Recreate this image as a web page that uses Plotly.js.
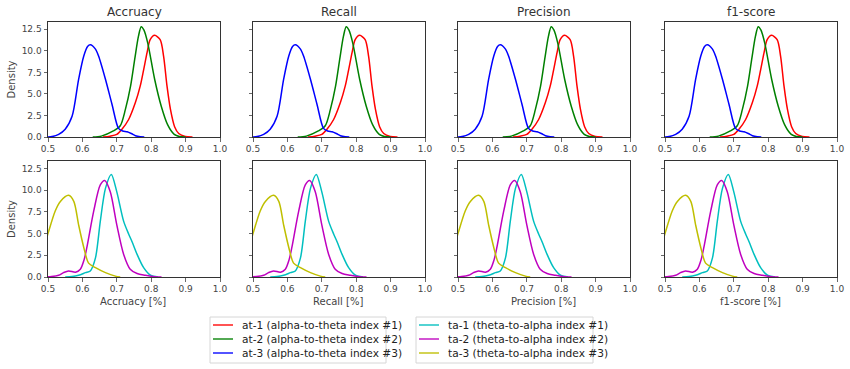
<!DOCTYPE html>
<html>
<head>
<meta charset="utf-8">
<script src="https://cdn.plot.ly/plotly-3.0.1.min.js"></script>
<style>html,body{margin:0;padding:0;background:#fff;}#chart{width:850px;height:369px;}</style>
</head>
<body>
<div id="chart"></div>
<script>
// Panel titles and axis labels
const panelTitles = ["Accruacy", "Recall", "Precision", "f1-score"];
const xLabels = ["Accruacy [%]", "Recall [%]", "Precision [%]", "f1-score [%]"];
const xTicks = [0.5, 0.6, 0.7, 0.8, 0.9, 1.0];
const yTicks = [0, 2.5, 5, 7.5, 10, 12.5];

// Series names
const seriesNames = [
  "at-1 (alpha-to-theta index #1)",
  "at-2 (alpha-to-theta index #2)",
  "at-3 (alpha-to-theta index #3)",
  "ta-1 (theta-to-alpha index #1)",
  "ta-2 (theta-to-alpha index #2)",
  "ta-3 (theta-to-alpha index #3)"
];

// at-1 (red)
const at1_x = [0.66, 0.68, 0.700, 0.715, 0.734, 0.754, 0.768, 0.778, 0.788, 0.797, 0.810, 0.826, 0.836, 0.846, 0.856, 0.868, 0.880, 0.899, 0.92];
const at1_y = [0.0, 0.1, 0.3, 0.9, 2.0, 4.0, 5.9, 7.8, 9.8, 11.3, 11.8, 11.3, 9.4, 5.9, 3.2, 1.2, 0.4, 0.05, 0.0];
// at-2 (green)
const at2_x = [0.63, 0.655, 0.690, 0.710, 0.725, 0.740, 0.752, 0.763, 0.771, 0.779, 0.790, 0.810, 0.829, 0.848, 0.867, 0.882, 0.90];
const at2_y = [0.0, 0.1, 0.7, 1.3, 3.2, 5.9, 9.0, 11.7, 12.8, 12.4, 10.9, 6.7, 3.6, 1.4, 0.3, 0.05, 0.0];
// at-3 (blue)
const at3_x = [0.49, 0.512, 0.531, 0.550, 0.570, 0.589, 0.604, 0.615, 0.623, 0.638, 0.647, 0.667, 0.686, 0.705, 0.717, 0.730, 0.742, 0.754, 0.768, 0.78];
const at3_y = [0.0, 0.05, 0.3, 0.9, 2.4, 6.7, 9.4, 10.5, 10.7, 10.2, 9.4, 6.7, 3.8, 1.0, 0.7, 0.6, 0.4, 0.15, 0.02, 0.0];
// ta-1 (cyan)
const ta1_x = [0.55, 0.570, 0.589, 0.609, 0.623, 0.638, 0.652, 0.667, 0.684, 0.700, 0.720, 0.735, 0.745, 0.759, 0.778, 0.798, 0.82];
const ta1_y = [0.0, 0.05, 0.2, 0.5, 0.7, 2.2, 6.4, 10.2, 11.8, 9.8, 6.4, 4.9, 4.0, 2.6, 1.07, 0.2, 0.0];
// ta-2 (magenta)
const ta2_x = [0.49, 0.510, 0.531, 0.545, 0.560, 0.580, 0.594, 0.605, 0.613, 0.633, 0.652, 0.665, 0.681, 0.700, 0.720, 0.739, 0.759, 0.783, 0.81, 0.83];
const ta2_y = [0.0, 0.05, 0.2, 0.5, 0.7, 0.55, 0.9, 2.0, 3.4, 7.6, 10.6, 11.1, 9.8, 6.0, 2.6, 0.9, 0.4, 0.2, 0.03, 0.0];
// ta-3 (yellow)
const ta3_x = [0.47, 0.485, 0.500, 0.521, 0.536, 0.560, 0.575, 0.589, 0.604, 0.618, 0.638, 0.667, 0.696, 0.71];
const ta3_y = [1.6, 3.0, 5.0, 7.6, 8.7, 9.4, 8.7, 6.0, 3.4, 1.6, 1.07, 0.5, 0.1, 0.0];

const seriesX = [at1_x, at2_x, at3_x, ta1_x, ta2_x, ta3_x];
const seriesY = [at1_y, at2_y, at3_y, ta1_y, ta2_y, ta3_y];
const seriesColors = ["#ff0000", "#008000", "#0000ff", "#00bfbf", "#bf00bf", "#bfbf00"];

const W = 850, H = 369;
const colPx = [[48, 220], [253, 425], [458, 630], [665, 837]];
const rowPx = [[22, 137], [161, 277]];
const tickFont = {family: "DejaVu Sans", size: 9, color: "#444"};
const labFont = {family: "DejaVu Sans", size: 10, color: "#444"};
const py = v => 1 - v / H, px = v => v / W;

const traces = [];
const layout = {
  width: W, height: H,
  margin: {l: 0, r: 0, t: 0, b: 0, autoexpand: false},
  paper_bgcolor: "#ffffff",
  plot_bgcolor: "#ffffff",
  font: {family: "DejaVu Sans", size: 9, color: "#444"},
  showlegend: false,
  annotations: [],
  shapes: []
};

let idx = 0;
for (let r = 0; r < 2; r++) {
  for (let c = 0; c < 4; c++) {
    idx++;
    const xa = "xaxis" + (idx === 1 ? "" : idx);
    const ya = "yaxis" + (idx === 1 ? "" : idx);
    const xref = "x" + (idx === 1 ? "" : idx);
    const yref = "y" + (idx === 1 ? "" : idx);
    layout[xa] = {
      domain: [colPx[c][0] / W, colPx[c][1] / W],
      anchor: yref, automargin: false,
      range: [0.5, 1.0],
      tickvals: xTicks, tickformat: ".1f",
      ticks: "outside", ticklen: 3.5, tickcolor: "#444", tickwidth: 0.8,
      showline: true, mirror: true, linecolor: "#333", linewidth: 1,
      showgrid: false, zeroline: false,
      tickfont: tickFont
    };
    layout[ya] = {
      domain: [1 - rowPx[r][1] / H, 1 - rowPx[r][0] / H],
      anchor: xref, automargin: false,
      range: [0, 13.35],
      tickvals: yTicks, tickformat: ".1f",
      ticks: "outside", ticklen: 3.5, tickcolor: "#444", tickwidth: 0.8,
      showticklabels: c === 0,
      showline: true, mirror: true, linecolor: "#333", linewidth: 1,
      showgrid: false, zeroline: false,
      tickfont: tickFont,
      title: c === 0 ? {text: "Density", font: labFont, standoff: 4} : {text: ""}
    };
    const sIdx = r === 0 ? [0, 1, 2] : [3, 4, 5];
    sIdx.forEach(s => {
      traces.push({
        type: "scatter", mode: "lines",
        x: seriesX[s], y: seriesY[s],
        xaxis: xref, yaxis: yref,
        name: seriesNames[s],
        showlegend: false,
        line: {color: seriesColors[s], width: 1.5, shape: "spline", smoothing: 0.8},
        hoverinfo: "skip"
      });
    });
    const cx = (colPx[c][0] + colPx[c][1]) / 2;
    if (r === 0) {
      layout.annotations.push({
        text: panelTitles[c], xref: "paper", yref: "paper",
        x: px(cx), y: py(12),
        xanchor: "center", yanchor: "middle", showarrow: false,
        font: {family: "DejaVu Sans", size: 12, color: "#333"}
      });
    } else {
      layout.annotations.push({
        text: xLabels[c], xref: "paper", yref: "paper",
        x: px(cx - 1), y: py(301),
        xanchor: "center", yanchor: "middle", showarrow: false,
        font: labFont
      });
    }
  }
}

// Hand-drawn legends (two boxes, three entries each)
const legendBoxes = [{left: 210, right: 386, series: [0, 1, 2]}, {left: 416, right: 593, series: [3, 4, 5]}];
const legTop = 317, legBottom = 363, rowY = [325, 339, 353];
legendBoxes.forEach(b => {
  layout.shapes.push({
    type: "rect", xref: "paper", yref: "paper",
    x0: px(b.left), x1: px(b.right), y0: py(legBottom), y1: py(legTop),
    line: {color: "#d6d6d6", width: 1}, fillcolor: "rgba(255,255,255,0.8)"
  });
  b.series.forEach((s, k) => {
    layout.shapes.push({
      type: "line", xref: "paper", yref: "paper",
      x0: px(b.left + 3), x1: px(b.left + 23), y0: py(rowY[k]), y1: py(rowY[k]),
      line: {color: seriesColors[s], width: 1.8}, opacity: 0.75
    });
    layout.annotations.push({
      text: seriesNames[s], xref: "paper", yref: "paper",
      x: px(b.left + 30), y: py(rowY[k]), xanchor: "left", yanchor: "middle",
      showarrow: false, font: {family: "DejaVu Sans", size: 10.6, color: "#222"}
    });
  });
});

Plotly.newPlot("chart", traces, layout, {staticPlot: true, displayModeBar: false});
</script>
</body>
</html>
